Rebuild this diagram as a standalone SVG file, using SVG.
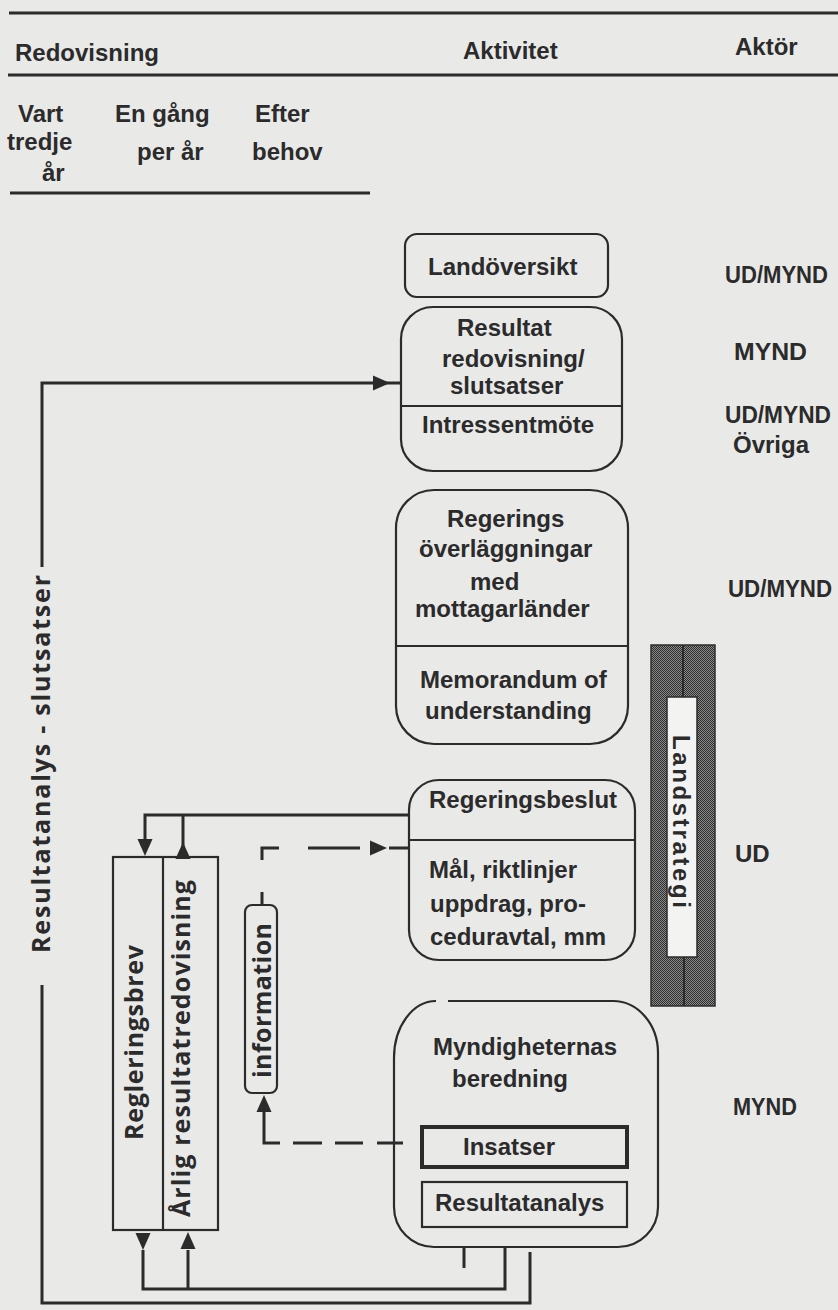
<svg xmlns="http://www.w3.org/2000/svg" width="838" height="1310" viewBox="0 0 838 1310">
  <defs>
    <style>
      .t { font-family: "Liberation Sans", Arial, sans-serif; font-weight: 700; font-size: 24px; fill: #2b2b2b; }
      .h { font-family: "Open Sans", "Liberation Sans", sans-serif; font-weight: 700; font-size: 25px; fill: #2b2b2b; }
      .box { fill: none; stroke: #2b2b2b; stroke-width: 2.2; }
      .rule { stroke: #2b2b2b; stroke-width: 3; fill: none; }
      .ln { stroke: #2b2b2b; stroke-width: 3; fill: none; }
      .thin { stroke: #2b2b2b; stroke-width: 2; fill: none; }
      .ah { fill: #2b2b2b; }
    </style>
    <!-- filled arrowhead, tip at origin, pointing along +x -->
    <path id="ah" d="M0,0 L-17,-7.5 L-17,7.5 Z"/>
    <!-- dithered grey fill of the strategy bar -->
    <pattern id="dither" width="2" height="2" patternUnits="userSpaceOnUse">
      <rect width="2" height="2" fill="#8a8a8a"/>
      <rect width="1" height="1" fill="#2e2e2e"/>
      <rect x="1" y="1" width="1" height="1" fill="#2e2e2e"/>
    </pattern>
  </defs>

  <rect width="838" height="1310" fill="#e9e9e8"/>

  <!-- table header -->
  <g id="header">
    <line class="rule" x1="9" y1="13" x2="838" y2="13"/>
    <line class="rule" x1="8" y1="75" x2="838" y2="75"/>
    <line class="rule" x1="10" y1="193" x2="370" y2="193"/>
    <text class="t" x="15" y="61">Redovisning</text>
    <text class="t" x="463" y="59">Aktivitet</text>
    <text class="t" x="735" y="55">Aktör</text>
    <text class="t" x="18" y="122">Vart</text>
    <text class="t" x="7" y="150">tredje</text>
    <text class="t" x="42" y="181">år</text>
    <text class="t" x="115" y="122">En gång</text>
    <text class="t" x="137" y="160">per år</text>
    <text class="t" x="255" y="122">Efter</text>
    <text class="t" x="252" y="160">behov</text>
  </g>

  <!-- actors column -->
  <g id="actors">
    <text class="t" x="725" y="283" textLength="103" lengthAdjust="spacingAndGlyphs">UD/MYND</text>
    <text class="t" x="734" y="360" textLength="73" lengthAdjust="spacingAndGlyphs">MYND</text>
    <text class="t" x="725" y="423" textLength="106" lengthAdjust="spacingAndGlyphs">UD/MYND</text>
    <text class="t" x="733" y="453">Övriga</text>
    <text class="t" x="728" y="597" textLength="104" lengthAdjust="spacingAndGlyphs">UD/MYND</text>
    <text class="t" x="735" y="862">UD</text>
    <text class="t" x="733" y="1115" textLength="64" lengthAdjust="spacingAndGlyphs">MYND</text>
  </g>

  <!-- connectors -->
  <g id="connectors">
    <!-- outer feedback loop: results back to the report meeting -->
    <path class="ln" d="M530,1252 V1303 H42 V985"/>
    <path class="ln" d="M42,567 V383 H401"/>
    <use href="#ah" class="ah" transform="translate(390,383)"/>
    <!-- inner loop: authorities to Regleringsbrev / annual report -->
    <path class="ln" d="M505,1247 V1289 H143 V1250"/>
    <use href="#ah" class="ah" transform="translate(143,1250) rotate(90)"/>
    <path class="ln" d="M188,1289 V1250"/>
    <use href="#ah" class="ah" transform="translate(188,1232) rotate(-90)"/>
    <path class="ln" d="M464,1247 V1268"/>
    <!-- top link to the government decision -->
    <path class="ln" d="M410,815 H145 V842"/>
    <use href="#ah" class="ah" transform="translate(145,856) rotate(90)"/>
    <path class="ln" d="M183,815 V856"/>
    <use href="#ah" class="ah" transform="translate(183,842) rotate(-90)"/>
    <!-- dashed information flow -->
    <path class="ln" d="M262,892 V905"/>
    <path class="ln" d="M262,860 V848 H279"/>
    <path class="ln" d="M308,848 H360"/>
    <use href="#ah" class="ah" transform="translate(387,848)"/>
    <path class="ln" d="M389,848 H409"/>
    <path class="ln" d="M403,1143 H377 M363,1143 H335 M322,1143 H293 M280,1143 H264 V1110"/>
    <use href="#ah" class="ah" transform="translate(264,1095) rotate(-90)"/>
  </g>

  <g id="n-landoversikt">
    <rect class="box" x="405" y="234" width="203" height="63" rx="12"/>
    <text class="t" x="428" y="275">Landöversikt</text>
  </g>

  <g id="n-resultatredovisning">
    <rect class="box" x="401" y="307" width="221" height="164" rx="32"/>
    <line class="box" x1="401" y1="406" x2="622" y2="406"/>
    <text class="t" x="457" y="336">Resultat</text>
    <text class="t" x="442" y="367">redovisning/</text>
    <text class="t" x="450" y="394">slutsatser</text>
    <text class="t" x="422" y="433">Intressentmöte</text>
  </g>

  <g id="n-overlaggningar">
    <rect class="box" x="396" y="490" width="232" height="254" rx="38"/>
    <line class="box" x1="396" y1="646" x2="628" y2="646"/>
    <text class="t" x="447" y="527">Regerings</text>
    <text class="t" x="419" y="557">överläggningar</text>
    <text class="t" x="470" y="590">med</text>
    <text class="t" x="415" y="617">mottagarländer</text>
    <text class="t" x="420" y="688">Memorandum of</text>
    <text class="t" x="425" y="719">understanding</text>
  </g>

  <g id="n-landstrategi">
    <rect x="651" y="645" width="64" height="361" fill="url(#dither)" stroke="#2e2e2e" stroke-width="1.5"/>
    <rect x="667" y="697" width="30" height="260" fill="#f3f3f2" stroke="#2b2b2b" stroke-width="1.5"/>
    <line class="thin" x1="683" y1="645" x2="683" y2="697"/>
    <line class="thin" x1="684" y1="957" x2="684" y2="1006"/>
    <text class="t" transform="translate(673,735) rotate(90)" textLength="173">Landstrategi</text>
  </g>

  <g id="n-regeringsbeslut">
    <rect class="box" x="409" y="780" width="226" height="180" rx="30"/>
    <line class="box" x1="409" y1="840" x2="635" y2="840"/>
    <text class="t" x="429" y="808">Regeringsbeslut</text>
    <text class="t" x="429" y="878">Mål, riktlinjer</text>
    <text class="t" x="430" y="912">uppdrag, pro-</text>
    <text class="t" x="430" y="945">ceduravtal, mm</text>
  </g>

  <g id="n-myndigheter">
    <path class="box" d="M448,1001 H613 A45,52 0 0 1 658,1053 V1207 A40,40 0 0 1 618,1247 H434 A40,40 0 0 1 394,1207 V1058 A42,57 0 0 1 436,1001"/>
    <text class="t" x="433" y="1055">Myndigheternas</text>
    <text class="t" x="452" y="1087">beredning</text>
    <g id="n-insatser">
      <rect x="422" y="1127" width="205" height="40" fill="none" stroke="#2b2b2b" stroke-width="4"/>
      <text class="t" x="463" y="1155">Insatser</text>
    </g>
    <g id="n-resultatanalys">
      <rect class="box" x="422" y="1182" width="205" height="45"/>
      <text class="t" x="435" y="1211">Resultatanalys</text>
    </g>
  </g>

  <g id="n-information">
    <rect class="box" x="245" y="905" width="32" height="188" rx="7"/>
    <text class="h" transform="translate(271,1078) rotate(-90)" textLength="155">information</text>
  </g>

  <g id="n-reglering">
    <rect class="box" x="113" y="857" width="105" height="373"/>
    <line class="box" x1="163" y1="857" x2="163" y2="1230"/>
    <text class="h" transform="translate(143,1140) rotate(-90)" textLength="195">Regleringsbrev</text>
    <text class="h" transform="translate(190,1217) rotate(-90)" textLength="337">Årlig resultatredovisning</text>
  </g>

  <g id="l-resultatanalys">
    <text class="h" font-size="27" transform="translate(50,953) rotate(-90)" textLength="378">Resultatanalys - slutsatser</text>
  </g>
</svg>
